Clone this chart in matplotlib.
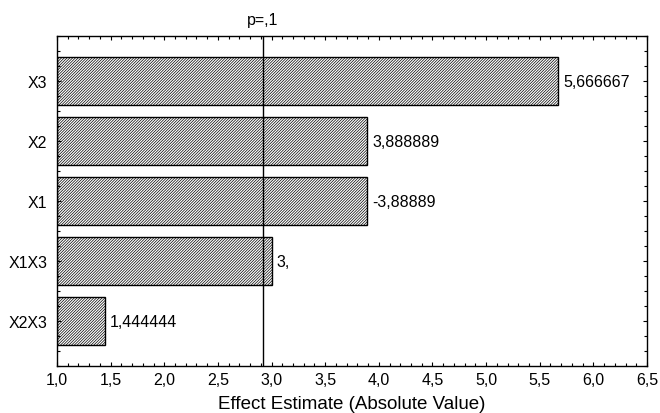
import matplotlib
matplotlib.use("Agg")
import matplotlib.pyplot as plt
from matplotlib.ticker import MultipleLocator, FuncFormatter

plt.rcParams['font.family'] = ['Liberation Sans', 'DejaVu Sans']
plt.rcParams['hatch.color'] = '#505050'
plt.rcParams['hatch.linewidth'] = 0.5

# dados (efeitos padronizados)
factors = ["X3", "X2", "X1", "X1X3", "X2X3"]
effects = [5.666667, 3.888889, 3.888889, 3.0, 1.444444]
labels = ["5,666667", "3,888889", "-3,88889", "3,", "1,444444"]
p_line = 2.92
x_start = 1.0

fig = plt.figure(figsize=(6.6, 4.14), dpi=100)
ax = fig.add_axes([0.0864, 0.1135, 0.8939, 0.7971])

pos = list(range(len(factors)))[::-1]
widths = [e - x_start for e in effects]
ax.barh(pos, widths, left=x_start, height=0.8, color='white',
        edgecolor='black', linewidth=1.0, hatch='/' * 12)

for y, e, lab in zip(pos, effects, labels):
    ax.text(e + 0.05, y, lab, va='center', ha='left', fontsize=11.5)

ax.axvline(p_line, color='black', linewidth=1.0)
ax.text(p_line, 4.9, "p=,1", ha='center', va='bottom', fontsize=11.5)

ax.set_xlim(1.0, 6.5)
ax.set_ylim(-0.75, 4.75)
ax.set_yticks(pos)
ax.set_yticklabels(factors, fontsize=11.5)
ax.xaxis.set_major_locator(MultipleLocator(0.5))
ax.xaxis.set_minor_locator(MultipleLocator(0.1))
ax.yaxis.set_minor_locator(MultipleLocator(0.25))
ax.xaxis.set_major_formatter(FuncFormatter(lambda v, p: f"{v:.1f}".replace('.', ',')))
ax.tick_params(axis='x', labelsize=11.5)
ax.tick_params(which='both', direction='in', top=True, right=True)
ax.tick_params(which='major', length=3, width=0.8)
ax.tick_params(which='minor', length=2, width=0.8)
ax.tick_params(axis='x', pad=4)
ax.tick_params(axis='y', pad=7)
for s in ax.spines.values():
    s.set_linewidth(1.0)

ax.set_xlabel("Effect Estimate (Absolute Value)", fontsize=13.5, labelpad=6)

fig.savefig("out.png", dpi=100)
